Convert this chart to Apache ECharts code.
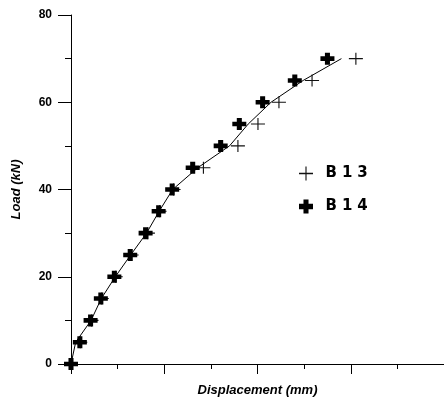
<!DOCTYPE html>
<html>
<head>
<meta charset="utf-8">
<script src="https://cdn.jsdelivr.net/npm/echarts@6/dist/echarts.min.js"></script>
<style>
  html, body { margin: 0; padding: 0; background: #fff; }
  #main { width: 444px; height: 402px; }
</style>
</head>
<body>
<div id="main"></div>
<script>
// load steps (kN)
const loads = [0, 5, 10, 15, 20, 25, 30, 35, 40, 45, 50, 55, 60, 65, 70];
// displacement (mm)
const b13Disp = [0, 0.2, 0.44, 0.66, 0.96, 1.3, 1.65, 1.9, 2.2, 2.84, 3.58, 4.01, 4.46, 5.17, 6.11];
const b14Disp = [0, 0.19, 0.42, 0.64, 0.93, 1.27, 1.6, 1.88, 2.17, 2.61, 3.21, 3.61, 4.11, 4.8, 5.5];
// fitted curve drawn through both specimens
const curveDisp = [0, 0.1, 0.43, 0.65, 0.95, 1.28, 1.62, 1.89, 2.18, 2.72, 3.4, 3.8, 4.29, 4.98, 5.8];

const pairs = (xs) => xs.map((x, i) => [x, loads[i]]);

const thinPlus = 'path://M0,4.55H10V5.45H0Z M4.6,0H5.4V10H4.6Z';
const thickPlus = 'path://M3.2,0H6.8V3.1H10V6.9H6.8V10H3.2V6.9H0V3.1H3.2Z';

let chartDom = document.getElementById('main');
let myChart = echarts.init(chartDom);
let option;

option = {
  animation: false,
  grid: { left: 71, right: 0, top: 15, bottom: 31 },
  legend: {
    orient: 'vertical',
    left: 294,
    top: 161,
    itemGap: 18,
    itemWidth: 29,
    itemHeight: 14,
    data: ['B13', 'B14'],
    // spread the letters like the wide bold face of the original
    formatter: (name) => name.split('').map((c) => '{s|' + c + '}').join(''),
    textStyle: {
      color: '#000',
      rich: {
        s: { fontFamily: 'DejaVu Sans', fontWeight: 'bold', fontSize: 15, color: '#000', padding: [0, 5, 0, 0] }
      }
    }
  },
  xAxis: {
    type: 'value',
    min: 0,
    max: 8,
    interval: 2,
    name: 'Displacement (mm)',
    nameLocation: 'middle',
    nameGap: 20,
    nameTextStyle: { fontFamily: 'Liberation Sans', fontWeight: 'bold', fontStyle: 'italic', fontSize: 13, color: '#000' },
    axisLine: { lineStyle: { color: '#000', width: 1 } },
    axisTick: { show: true, length: 10, lineStyle: { color: '#000' } },
    minorTick: { show: true, splitNumber: 2, length: 5, lineStyle: { color: '#000' } },
    axisLabel: { show: false },
    splitLine: { show: false }
  },
  yAxis: {
    type: 'value',
    min: 0,
    max: 80,
    interval: 20,
    name: 'Load (kN)',
    nameLocation: 'middle',
    nameRotate: 90,
    nameGap: 48,
    nameTextStyle: { fontFamily: 'Liberation Sans', fontWeight: 'bold', fontStyle: 'italic', fontSize: 13, color: '#000' },
    axisLine: { show: true, lineStyle: { color: '#000', width: 1 } },
    axisTick: { show: true, length: 13, lineStyle: { color: '#000' } },
    minorTick: { show: true, splitNumber: 2, length: 6, lineStyle: { color: '#000' } },
    axisLabel: { margin: 19, fontFamily: 'Liberation Sans', fontWeight: 'bold', fontSize: 12, color: '#000' },
    splitLine: { show: false }
  },
  series: [
    {
      name: 'curve',
      type: 'line',
      data: pairs(curveDisp),
      symbol: 'none',
      lineStyle: { color: '#000', width: 1 },
      clip: false,
      z: 1
    },
    {
      name: 'B13',
      type: 'scatter',
      data: pairs(b13Disp),
      symbol: thinPlus,
      symbolSize: [14, 12],
      itemStyle: { color: '#111', opacity: 1 },
      clip: false,
      z: 2
    },
    {
      name: 'B14',
      type: 'scatter',
      data: pairs(b14Disp),
      symbol: thickPlus,
      symbolSize: [14, 12],
      itemStyle: { color: '#000', opacity: 1 },
      clip: false,
      z: 3
    }
  ]
};

option && myChart.setOption(option);
</script>
</body>
</html>
